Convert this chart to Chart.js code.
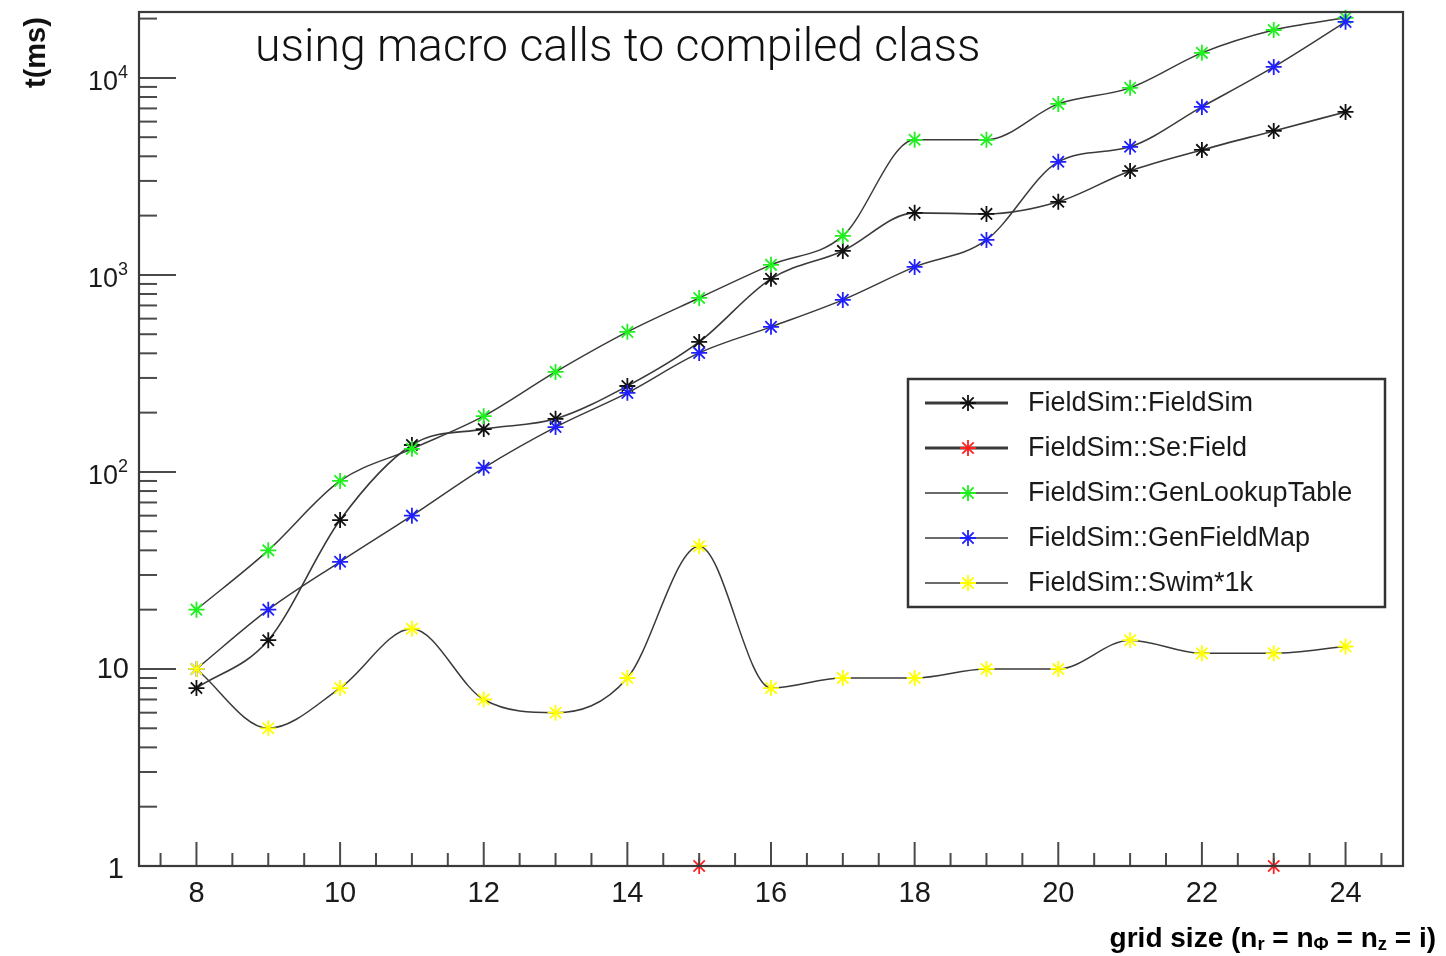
<!DOCTYPE html>
<html>
<head>
<meta charset="utf-8">
<script src="https://cdn.jsdelivr.net/npm/chart.js@4/dist/chart.umd.min.js"></script>
<style>
  html, body { margin: 0; padding: 0; background: #fff; }
  canvas { display: block; }
</style>
</head>
<body>
<canvas id="timing" width="1446" height="956"></canvas>
<script>
// Grid size i (n_r = n_phi = n_z = i)
const gridSizes = [8, 9, 10, 11, 12, 13, 14, 15, 16, 17, 18, 19, 20, 21, 22, 23, 24];

// Timings in ms
const fieldSim       = [8, 14, 57, 137, 165, 186, 273, 457, 955, 1324, 2065, 2040, 2350, 3370, 4310, 5380, 6720];
const setField       = [null, null, null, null, null, null, null, 1, null, null, null, null, null, null, null, 1, null];
const genLookupTable = [20, 40, 90, 131, 192, 322, 514, 764, 1125, 1578, 4850, 4850, 7380, 8900, 13400, 17500, 20200];
const genFieldMap    = [10, 20, 35, 60, 105, 169, 252, 402, 545, 747, 1098, 1506, 3750, 4470, 7125, 11370, 19250];
const swim1k         = [10, 5, 8, 16, 7, 6, 9, 42, 8, 9, 9, 10, 10, 14, 12, 12, 13];

const seriesNames  = ['FieldSim::FieldSim', 'FieldSim::SetField', 'FieldSim::GenLookupTable', 'FieldSim::GenFieldMap', 'FieldSim::Swim*1k'];
const legendNames  = ['FieldSim::FieldSim', 'FieldSim::Se:Field', 'FieldSim::GenLookupTable', 'FieldSim::GenFieldMap', 'FieldSim::Swim*1k'];
const seriesValues = [fieldSim, setField, genLookupTable, genFieldMap, swim1k];
const markerColors = ['#111111', '#ff2020', '#20f020', '#2020ff', '#ffff00'];
const lineWidths   = [1.6, 1.6, 1.5, 1.5, 1.5];
const legendLineWidths = [3, 3, 1.6, 1.6, 1.6];

const yTickValues = [1, 10, 100, 1000, 10000];
const xTickValues = [8, 10, 12, 14, 16, 18, 20, 22, 24];
const xMin = 7.2, xMax = 24.8;
const yMin = 1, yMax = 21600;

const titleText = 'using macro calls to compiled class';
const yTitle = 't(ms)';

const LABEL_FONT = '"Liberation Sans", Arial, sans-serif';
const AXIS_COLOR = '#4a4a4a';
const MARKER_R = 8;

const datasets = seriesValues.map((vals, k) => ({
  label: seriesNames[k],
  data: gridSizes.map((g, i) => ({ x: g, y: vals[i] })),
  borderColor: '#3a3a3a',
  borderWidth: lineWidths[k],
  cubicInterpolationMode: 'monotone',
  spanGaps: false,
  showLine: true,
  pointStyle: 'star',
  pointRadius: MARKER_R,
  pointBorderWidth: 1.8,
  pointBorderColor: markerColors[k],
  pointBackgroundColor: markerColors[k],
  clip: false,
  order: seriesValues.length - k
}));

function yLabelParts(v) {
  if (v === 1) return ['1', ''];
  if (v === 10) return ['10', ''];
  return ['10', String(Math.round(Math.log10(v)))];
}

function drawStar(ctx, cx, cy, r, color, width) {
  ctx.strokeStyle = color;
  ctx.lineWidth = width;
  const q = r * Math.SQRT1_2;
  ctx.beginPath();
  ctx.moveTo(cx - r, cy); ctx.lineTo(cx + r, cy);
  ctx.moveTo(cx, cy - r); ctx.lineTo(cx, cy + r);
  ctx.moveTo(cx - q, cy - q); ctx.lineTo(cx + q, cy + q);
  ctx.moveTo(cx - q, cy + q); ctx.lineTo(cx + q, cy - q);
  ctx.stroke();
}

const decorPlugin = {
  id: 'decor',
  afterDatasetsDraw(chart) {
    const ctx = chart.ctx;
    const a = chart.chartArea;
    const xs = chart.scales.x, ys = chart.scales.y;
    ctx.save();

    // inward ticks on the x axis
    ctx.strokeStyle = AXIS_COLOR;
    ctx.lineWidth = 2;
    for (let t = 7.5; t <= 24.5 + 1e-9; t += 0.5) {
      const px = xs.getPixelForValue(t);
      const major = xTickValues.includes(t);
      ctx.beginPath();
      ctx.moveTo(px, a.bottom);
      ctx.lineTo(px, a.bottom - (major ? 24 : 13));
      ctx.stroke();
    }
    // inward ticks on the log y axis
    for (let d = 1; d <= 10000; d *= 10) {
      for (let m = 1; m <= 9; m++) {
        const v = d * m;
        if (v > yMax) break;
        const py = ys.getPixelForValue(v);
        ctx.beginPath();
        ctx.moveTo(a.left, py);
        ctx.lineTo(a.left + (m === 1 ? 37 : 18), py);
        ctx.stroke();
      }
    }

    // frame
    ctx.lineWidth = 2.2;
    ctx.strokeStyle = '#3a3a3a';
    ctx.strokeRect(a.left, a.top, a.right - a.left, a.bottom - a.top);

    // y tick labels with exponents
    ctx.fillStyle = '#1a1a1a';
    ctx.textBaseline = 'middle';
    const right = a.left - 11;
    yTickValues.forEach(v => {
      const py = ys.getPixelForValue(v);
      const [base, exp] = yLabelParts(v);
      if (exp) {
        ctx.font = '18px ' + LABEL_FONT;
        const ew = ctx.measureText(exp).width;
        ctx.textAlign = 'left';
        ctx.fillText(exp, right - ew, py - 5);
        ctx.font = '27px ' + LABEL_FONT;
        ctx.textAlign = 'right';
        ctx.fillText(base, right - ew, py + 5);
      } else {
        ctx.font = '29px ' + LABEL_FONT;
        ctx.textAlign = 'right';
        ctx.fillText(base, right + (v === 1 ? -4 : 1), py + (v === 1 ? 4 : 1));
      }
    });

    // y title
    ctx.save();
    ctx.translate(45, 88);
    ctx.rotate(-Math.PI / 2);
    ctx.font = 'bold 29px ' + LABEL_FONT;
    ctx.textAlign = 'left';
    ctx.textBaseline = 'alphabetic';
    ctx.fillStyle = '#111';
    ctx.fillText(yTitle, 0, 0);
    ctx.restore();

    // x title with subscripts, fitted to its slot at the lower right
    const pieces = [
      ['grid size (n', 0], ['r', 1], [' = n', 0], ['\u03A6', 1], [' = n', 0], ['z', 1], [' = i)', 0]
    ];
    const measureTitle = (mainSize, subSize) => {
      let w = 0;
      pieces.forEach(p => {
        ctx.font = 'bold ' + (p[1] ? subSize : mainSize) + 'px ' + LABEL_FONT;
        w += ctx.measureText(p[0]).width;
      });
      return w;
    };
    const k0 = 329 / measureTitle(26, 17);
    const mainSize = Math.min(28, 26 * k0), subSize = 17 * k0;
    const total = measureTitle(mainSize, subSize);
    let x = 1436 - total;
    ctx.textAlign = 'left';
    ctx.textBaseline = 'alphabetic';
    ctx.fillStyle = '#000';
    pieces.forEach(p => {
      ctx.font = 'bold ' + (p[1] ? subSize : mainSize) + 'px ' + LABEL_FONT;
      ctx.fillText(p[0], x, p[1] ? 950 : 947);
      x += ctx.measureText(p[0]).width;
    });

    // title
    ctx.font = '300 100px Roboto, "Open Sans", sans-serif';
    const tw = ctx.measureText(titleText).width;
    const ts = 100 * 725 / tw;
    ctx.font = '300 ' + ts.toFixed(1) + 'px Roboto, "Open Sans", sans-serif';
    ctx.fillStyle = '#111';
    ctx.fillText(titleText, 255, 61);

    // legend box
    const lx = 908, ly = 379, lw = 477, lh = 228;
    ctx.fillStyle = '#fff';
    ctx.fillRect(lx, ly, lw, lh);
    ctx.lineWidth = 2.5;
    ctx.strokeStyle = '#333';
    ctx.strokeRect(lx, ly, lw, lh);
    ctx.font = '100px ' + LABEL_FONT;
    const lwid = ctx.measureText(legendNames[2]).width;
    const lfs = 100 * 324 / lwid;
    legendNames.forEach((name, k) => {
      const ry = 403 + k * 45;
      ctx.strokeStyle = '#3a3a3a';
      ctx.lineWidth = legendLineWidths[k];
      ctx.beginPath();
      ctx.moveTo(925, ry);
      ctx.lineTo(1008, ry);
      ctx.stroke();
      drawStar(ctx, 968, ry, MARKER_R, markerColors[k], 1.8);
      ctx.fillStyle = '#1a1a1a';
      ctx.font = lfs.toFixed(1) + 'px ' + LABEL_FONT;
      ctx.textAlign = 'left';
      ctx.textBaseline = 'middle';
      ctx.fillText(name, 1028, ry + 1);
    });

    ctx.restore();
  }
};

new Chart(document.getElementById('timing'), {
  type: 'line',
  data: { datasets },
  options: {
    responsive: false,
    animation: false,
    layout: { padding: { left: 0, right: 43, top: 12, bottom: 0 } },
    plugins: { legend: { display: false }, tooltip: { enabled: false } },
    scales: {
      x: {
        type: 'linear',
        min: xMin,
        max: xMax,
        grid: { display: false, drawTicks: false },
        border: { display: false },
        afterBuildTicks: s => { s.ticks = xTickValues.map(v => ({ value: v })); },
        afterFit: s => { s.height = 90; },
        ticks: {
          padding: 11,
          color: '#1a1a1a',
          font: { family: LABEL_FONT, size: 29 },
          maxRotation: 0,
          autoSkip: false,
          callback: v => String(v)
        }
      },
      y: {
        type: 'logarithmic',
        min: yMin,
        max: yMax,
        grid: { display: false, drawTicks: false },
        border: { display: false },
        afterBuildTicks: s => { s.ticks = yTickValues.map(v => ({ value: v })); },
        afterFit: s => { s.width = 139; },
        ticks: { display: false }
      }
    }
  },
  plugins: [decorPlugin]
});
</script>
</body>
</html>
